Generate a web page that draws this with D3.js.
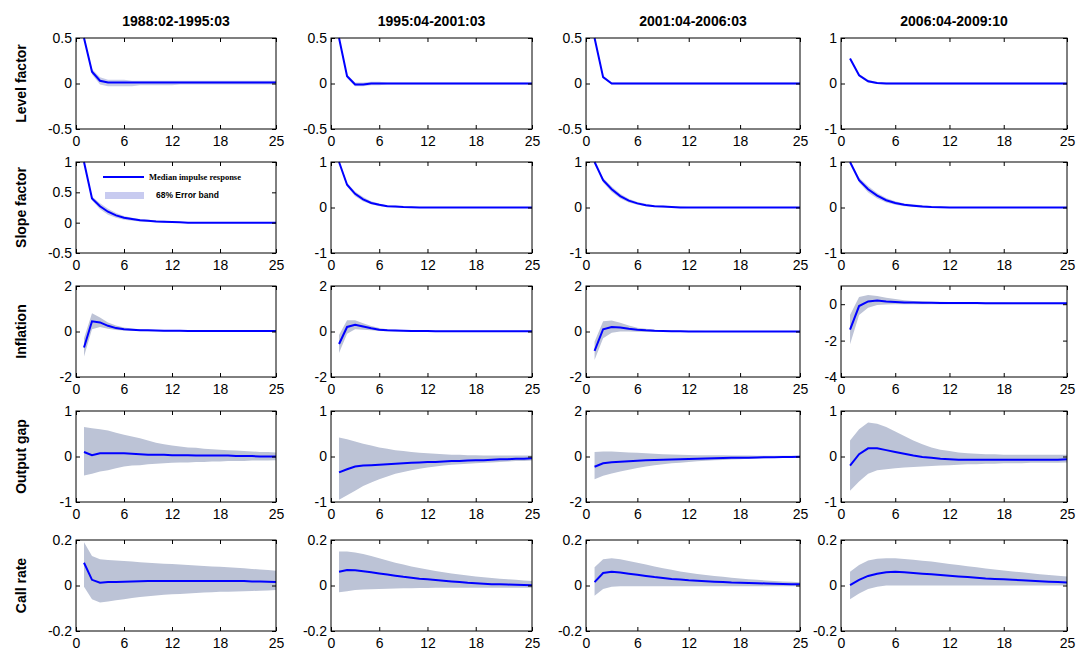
<!DOCTYPE html>
<html><head><meta charset="utf-8">
<script src="https://cdn.jsdelivr.net/npm/d3@7"></script>
<style>
body{margin:0;background:#fff;}
text{font-family:Arial,"Liberation Sans",sans-serif;}
</style></head>
<body><div id="chart"></div>
<script>
var periods = ["1988:02-1995:03","1995:04-2001:03","2001:04-2006:03","2006:04-2009:10"];
var variables = ["Level factor","Slope factor","Inflation","Output gap","Call rate"];
var xTicks = [0,6,12,18,25];
var horizon = d3.range(1, 26);

// y domains and tick labels per row / column
var yDomains = [
  [[-0.5,0.5],[-0.5,0.5],[-0.5,0.5],[-1,1]],
  [[-0.5,1],[-1,1],[-1,1],[-1,1]],
  [[-2,2],[-2,2],[-2,2],[-4,1]],
  [[-1,1],[-1,1],[-2,2],[-1,1]],
  [[-0.2,0.2],[-0.2,0.2],[-0.2,0.2],[-0.2,0.2]]
];
var yTicks = [
  [[-0.5,0,0.5],[-0.5,0,0.5],[-0.5,0,0.5],[-1,0,1]],
  [[-0.5,0,0.5,1],[-1,0,1],[-1,0,1],[-1,0,1]],
  [[-2,0,2],[-2,0,2],[-2,0,2],[-4,-2,0]],
  [[-1,0,1],[-1,0,1],[-2,0,2],[-1,0,1]],
  [[-0.2,0,0.2],[-0.2,0,0.2],[-0.2,0,0.2],[-0.2,0,0.2]]
];

// Level factor
var levelMed = [
  [0.5,0.13,0.03,0.01,0.01,0.01,0.01,0.01,0.01,0.01,0.01,0.01,0.01,0.01,0.01,0.01,0.01,0.01,0.01,0.01,0.01,0.01,0.01,0.01,0.01],
  [0.5,0.08,-0.01,-0.01,0,0,0,0,0,0,0,0,0,0,0,0,0,0,0,0,0,0,0,0,0],
  [0.5,0.07,0,0,0,0,0,0,0,0,0,0,0,0,0,0,0,0,0,0,0,0,0,0,0],
  [0.55,0.18,0.05,0.01,0,0,0,0,0,0,0,0,0,0,0,0,0,0,0,0,0,0,0,0,0]
];
var levelLo = [
  [0.5,0.1,-0.01,-0.03,-0.03,-0.03,-0.03,-0.02,-0.02,-0.02,-0.02,-0.02,-0.01,-0.01,-0.01,-0.01,-0.01,-0.01,-0.01,-0.01,-0.01,-0.01,-0.01,-0.01,-0.01],
  [0.5,0.06,-0.03,-0.03,-0.02,-0.02,-0.01,-0.01,-0.01,-0.01,-0.01,-0.01,-0.01,-0.01,-0.01,-0.01,-0.01,-0.01,-0.01,-0.01,-0.01,-0.01,-0.01,-0.01,-0.01],
  [0.5,0.06,-0.01,-0.01,-0.01,-0.01,-0.01,-0.01,-0.01,-0.01,-0.01,-0.01,-0.01,-0.01,-0.01,-0.01,-0.01,-0.01,-0.01,-0.01,-0.01,-0.01,-0.01,-0.01,-0.01],
  [0.55,0.15,0.02,-0.01,-0.02,-0.02,-0.02,-0.02,-0.02,-0.02,-0.02,-0.02,-0.02,-0.02,-0.02,-0.02,-0.02,-0.02,-0.02,-0.02,-0.02,-0.02,-0.02,-0.02,-0.02]
];
var levelHi = [
  [0.5,0.16,0.07,0.04,0.04,0.04,0.03,0.03,0.03,0.03,0.03,0.03,0.03,0.03,0.03,0.03,0.03,0.03,0.03,0.03,0.03,0.03,0.03,0.03,0.03],
  [0.5,0.1,0.01,0.01,0.02,0.02,0.01,0.01,0.01,0.01,0.01,0.01,0.01,0.01,0.01,0.01,0.01,0.01,0.01,0.01,0.01,0.01,0.01,0.01,0.01],
  [0.5,0.08,0.01,0.01,0.01,0.01,0.01,0.01,0.01,0.01,0.01,0.01,0.01,0.01,0.01,0.01,0.01,0.01,0.01,0.01,0.01,0.01,0.01,0.01,0.01],
  [0.55,0.21,0.08,0.03,0.02,0.02,0.02,0.02,0.02,0.02,0.02,0.02,0.02,0.02,0.02,0.02,0.02,0.02,0.02,0.02,0.02,0.02,0.02,0.02,0.02]
];

// Slope factor
var slopeMed = [
  [1,0.4,0.27,0.18,0.12,0.08,0.06,0.04,0.03,0.02,0.015,0.01,0.005,0,0,0,0,0,0,0,0,0,0,0,0],
  [1,0.5,0.3,0.18,0.1,0.06,0.03,0.02,0.01,0.005,0,0,0,0,0,0,0,0,0,0,0,0,0,0,0],
  [1,0.6,0.4,0.25,0.15,0.09,0.05,0.03,0.02,0.01,0,0,0,0,0,0,0,0,0,0,0,0,0,0,0],
  [1,0.6,0.4,0.26,0.16,0.1,0.06,0.04,0.02,0.01,0.005,0,0,0,0,0,0,0,0,0,0,0,0,0,0]
];
var slopeLo = [
  [1,0.37,0.22,0.13,0.08,0.05,0.03,0.02,0.01,0.01,0,0,0,0,0,0,0,0,0,0,0,0,0,0,0],
  [1,0.46,0.25,0.13,0.07,0.03,0.01,0,0,0,0,0,0,0,0,0,0,0,0,0,0,0,0,0,0],
  [1,0.55,0.34,0.2,0.11,0.06,0.03,0.01,0,0,0,0,0,0,0,0,0,0,0,0,0,0,0,0,0],
  [1,0.55,0.33,0.2,0.11,0.06,0.03,0.01,0,0,0,0,0,0,0,0,0,0,0,0,0,0,0,0,0]
];
var slopeHi = [
  [1,0.43,0.32,0.23,0.16,0.11,0.08,0.06,0.05,0.04,0.03,0.02,0.01,0.01,0,0,0,0,0,0,0,0,0,0,0],
  [1,0.54,0.35,0.23,0.14,0.09,0.05,0.04,0.03,0.02,0.01,0.01,0,0,0,0,0,0,0,0,0,0,0,0,0],
  [1,0.65,0.46,0.3,0.19,0.12,0.08,0.05,0.04,0.03,0.02,0.01,0,0,0,0,0,0,0,0,0,0,0,0,0],
  [1,0.66,0.47,0.32,0.21,0.14,0.09,0.07,0.05,0.03,0.02,0.01,0,0,0,0,0,0,0,0,0,0,0,0,0]
];

// Inflation
var inflMed = [
  [-0.7,0.45,0.4,0.25,0.15,0.1,0.08,0.06,0.05,0.04,0.03,0.03,0.03,0.02,0.02,0.02,0.02,0.02,0.02,0.02,0.02,0.02,0.02,0.02,0.02],
  [-0.55,0.2,0.3,0.22,0.14,0.08,0.05,0.04,0.03,0.02,0.02,0.02,0.01,0.01,0.01,0.01,0.01,0.01,0.01,0.01,0.01,0.01,0.01,0.01,0.01],
  [-0.85,0.1,0.2,0.18,0.12,0.08,0.05,0.03,0.02,0.01,0.01,0,0,0,0,0,0,0,0,0,0,0,0,0,0],
  [-1.4,-0.1,0.15,0.2,0.15,0.12,0.1,0.09,0.08,0.08,0.07,0.07,0.06,0.06,0.06,0.05,0.05,0.05,0.05,0.05,0.05,0.05,0.05,0.05,0.05]
];
var inflLo = [
  [-1.1,0.1,0.2,0.12,0.07,0.04,0.03,0.02,0.01,0.01,0,0,0,0,0,0,0,0,0,0,0,0,0,0,0],
  [-0.95,-0.1,0.1,0.08,0.05,0.02,0.01,0,0,0,0,0,0,0,0,0,0,0,0,0,0,0,0,0,0],
  [-1.25,-0.3,-0.05,0,0,-0.01,-0.02,-0.02,-0.02,-0.02,-0.02,-0.02,-0.02,-0.02,-0.02,-0.02,-0.02,-0.02,-0.02,-0.02,-0.02,-0.02,-0.02,-0.02,-0.02],
  [-2.2,-0.6,-0.2,-0.05,-0.02,0,0,0,0,0,0,0,0,0,0,0,0,0,0,0,0,0,0,0,0]
];
var inflHi = [
  [-0.3,0.8,0.62,0.4,0.26,0.18,0.13,0.1,0.08,0.07,0.06,0.05,0.05,0.04,0.04,0.04,0.04,0.04,0.04,0.04,0.04,0.04,0.04,0.04,0.04],
  [-0.15,0.5,0.5,0.36,0.24,0.15,0.1,0.08,0.06,0.05,0.04,0.04,0.03,0.03,0.03,0.03,0.03,0.03,0.03,0.03,0.03,0.03,0.03,0.03,0.03],
  [-0.45,0.45,0.48,0.38,0.26,0.17,0.12,0.08,0.06,0.05,0.04,0.03,0.03,0.02,0.02,0.02,0.02,0.02,0.02,0.02,0.02,0.02,0.02,0.02,0.02],
  [-0.6,0.4,0.5,0.45,0.36,0.28,0.22,0.18,0.16,0.14,0.13,0.12,0.11,0.1,0.1,0.09,0.09,0.09,0.08,0.08,0.08,0.08,0.08,0.08,0.08]
];

// Output gap
var gapMed = [
  [0.1,0.03,0.07,0.07,0.07,0.07,0.06,0.05,0.04,0.04,0.04,0.03,0.03,0.03,0.02,0.02,0.02,0.02,0.02,0.01,0.01,0.01,0,0,0],
  [-0.35,-0.28,-0.22,-0.2,-0.19,-0.18,-0.17,-0.16,-0.15,-0.14,-0.13,-0.12,-0.12,-0.11,-0.1,-0.1,-0.09,-0.08,-0.08,-0.07,-0.06,-0.06,-0.05,-0.05,-0.04],
  [-0.45,-0.3,-0.25,-0.23,-0.21,-0.19,-0.17,-0.15,-0.14,-0.13,-0.12,-0.11,-0.1,-0.09,-0.08,-0.07,-0.06,-0.05,-0.05,-0.04,-0.03,-0.03,-0.02,-0.02,-0.01],
  [-0.2,0.05,0.18,0.18,0.14,0.1,0.06,0.02,-0.01,-0.03,-0.05,-0.06,-0.07,-0.07,-0.07,-0.07,-0.07,-0.07,-0.07,-0.07,-0.07,-0.07,-0.07,-0.07,-0.06]
];
var gapLo = [
  [-0.42,-0.38,-0.33,-0.3,-0.26,-0.22,-0.2,-0.19,-0.17,-0.16,-0.15,-0.14,-0.13,-0.13,-0.12,-0.12,-0.11,-0.11,-0.1,-0.1,-0.1,-0.09,-0.09,-0.09,-0.08],
  [-0.95,-0.85,-0.75,-0.65,-0.57,-0.5,-0.44,-0.38,-0.34,-0.3,-0.27,-0.24,-0.22,-0.2,-0.18,-0.17,-0.16,-0.15,-0.14,-0.13,-0.12,-0.11,-0.1,-0.1,-0.09],
  [-1.0,-0.85,-0.75,-0.66,-0.58,-0.5,-0.44,-0.39,-0.34,-0.3,-0.27,-0.24,-0.21,-0.19,-0.17,-0.15,-0.13,-0.12,-0.1,-0.09,-0.08,-0.07,-0.06,-0.05,-0.04],
  [-0.75,-0.55,-0.38,-0.3,-0.28,-0.26,-0.24,-0.23,-0.22,-0.21,-0.2,-0.19,-0.18,-0.17,-0.17,-0.16,-0.16,-0.15,-0.15,-0.15,-0.14,-0.14,-0.14,-0.14,-0.13]
];
var gapHi = [
  [0.65,0.62,0.6,0.57,0.52,0.48,0.44,0.4,0.35,0.3,0.27,0.24,0.22,0.2,0.19,0.17,0.16,0.15,0.14,0.13,0.12,0.11,0.1,0.1,0.09],
  [0.42,0.38,0.33,0.28,0.24,0.2,0.17,0.14,0.12,0.1,0.08,0.07,0.06,0.05,0.04,0.04,0.03,0.03,0.02,0.02,0.02,0.02,0.02,0.02,0.02],
  [0.2,0.22,0.22,0.2,0.18,0.16,0.14,0.12,0.1,0.09,0.08,0.07,0.06,0.06,0.05,0.05,0.04,0.04,0.04,0.03,0.03,0.03,0.03,0.03,0.03],
  [0.35,0.6,0.75,0.72,0.65,0.55,0.45,0.35,0.27,0.2,0.15,0.12,0.09,0.07,0.06,0.05,0.05,0.04,0.04,0.04,0.04,0.04,0.04,0.04,0.04]
];

// Call rate
var callMed = [
  [0.1,0.025,0.012,0.015,0.015,0.017,0.018,0.019,0.02,0.02,0.02,0.02,0.02,0.02,0.02,0.02,0.02,0.02,0.02,0.02,0.02,0.018,0.018,0.017,0.015],
  [0.06,0.068,0.067,0.063,0.058,0.053,0.048,0.043,0.038,0.034,0.03,0.027,0.024,0.021,0.018,0.015,0.012,0.01,0.008,0.006,0.005,0.004,0.003,0.002,0.001],
  [0.015,0.055,0.06,0.057,0.052,0.047,0.042,0.037,0.033,0.029,0.026,0.023,0.021,0.019,0.017,0.015,0.013,0.012,0.011,0.01,0.009,0.008,0.007,0.006,0.005],
  [0.002,0.025,0.042,0.052,0.058,0.06,0.058,0.055,0.052,0.049,0.046,0.043,0.04,0.037,0.034,0.031,0.029,0.027,0.025,0.023,0.021,0.019,0.017,0.015,0.013]
];
var callLo = [
  [-0.005,-0.06,-0.075,-0.07,-0.065,-0.06,-0.055,-0.05,-0.047,-0.044,-0.041,-0.039,-0.037,-0.035,-0.033,-0.031,-0.03,-0.028,-0.027,-0.026,-0.025,-0.024,-0.023,-0.022,-0.02],
  [-0.03,-0.025,-0.02,-0.018,-0.016,-0.015,-0.014,-0.013,-0.012,-0.012,-0.011,-0.011,-0.01,-0.01,-0.01,-0.01,-0.01,-0.01,-0.01,-0.01,-0.01,-0.01,-0.01,-0.01,-0.01],
  [-0.045,-0.015,-0.005,-0.003,-0.003,-0.003,-0.003,-0.003,-0.003,-0.003,-0.003,-0.003,-0.003,-0.003,-0.003,-0.003,-0.003,-0.003,-0.003,-0.003,-0.003,-0.003,-0.003,-0.003,-0.003],
  [-0.06,-0.035,-0.015,-0.005,0,0,0,0,0,0,0,0,0,0,0,0,0,0,0,0,0,0,0,0,0]
];
var callHi = [
  [0.19,0.13,0.115,0.112,0.11,0.108,0.105,0.102,0.1,0.098,0.096,0.094,0.092,0.09,0.088,0.086,0.084,0.082,0.08,0.078,0.076,0.073,0.07,0.068,0.065],
  [0.15,0.15,0.145,0.138,0.13,0.12,0.11,0.1,0.092,0.084,0.077,0.07,0.064,0.058,0.053,0.048,0.044,0.04,0.036,0.033,0.03,0.027,0.025,0.022,0.02],
  [0.08,0.115,0.12,0.115,0.108,0.1,0.092,0.084,0.076,0.069,0.062,0.056,0.051,0.046,0.042,0.038,0.034,0.031,0.028,0.025,0.022,0.02,0.018,0.016,0.014],
  [0.06,0.09,0.11,0.118,0.12,0.12,0.117,0.113,0.109,0.105,0.1,0.095,0.09,0.085,0.08,0.075,0.07,0.066,0.062,0.058,0.054,0.05,0.046,0.043,0.04]
];

var medians = [levelMed, slopeMed, inflMed, gapMed, callMed];
var lowers  = [levelLo, slopeLo, inflLo, gapLo, callLo];
var uppers  = [levelHi, slopeHi, inflHi, gapHi, callHi];

var W = 1078, H = 657;
var colLeft = [76, 331, 586, 841];
var colWidth = [200, 201, 214, 226];
var rowTop = [38, 162, 286, 411, 540];
var rowHeight = 91;
var bandColor = ["#c6cbe6", "#c6cbe6", "#bdc3d6", "#bcc3d6", "#bcc3d6"];

var svg = d3.select("#chart").append("svg").attr("width", W).attr("height", H);

var fmt = function(v){ return String(v); };

periods.forEach(function(p, c){
  svg.append("text")
    .attr("x", colLeft[c] + colWidth[c]/2).attr("y", 26)
    .attr("text-anchor", "middle").style("font-size", "14px").style("font-weight", "bold")
    .text(p);
});

variables.forEach(function(v, r){
  svg.append("text")
    .attr("transform", "translate(26," + (rowTop[r] + rowHeight/2) + ") rotate(-90)")
    .attr("text-anchor", "middle").style("font-size", "14px").style("font-weight", "bold")
    .text(v);

  periods.forEach(function(p, c){
    var x = d3.scaleLinear().domain([0, 25]).range([0, colWidth[c]]);
    var y = d3.scaleLinear().domain(yDomains[r][c]).range([rowHeight, 0]);
    var g = svg.append("g").attr("transform", "translate(" + colLeft[c] + "," + rowTop[r] + ")");

    var data = horizon.map(function(h, i){
      return {h: h, m: medians[r][c][i], lo: lowers[r][c][i], hi: uppers[r][c][i]};
    });

    g.append("path").datum(data)
      .attr("fill", bandColor[r])
      .attr("d", d3.area().x(function(d){ return x(d.h); })
        .y0(function(d){ return y(d.lo); }).y1(function(d){ return y(d.hi); }));

    g.append("path").datum(data)
      .attr("fill", "none").attr("stroke", "#0000ff").attr("stroke-width", 2)
      .attr("d", d3.line().x(function(d){ return x(d.h); }).y(function(d){ return y(d.m); }));

    // frame
    g.append("rect").attr("width", colWidth[c]).attr("height", rowHeight)
      .attr("fill", "none").attr("stroke", "#000").attr("stroke-width", 1);

    var xb = g.append("g").attr("transform", "translate(0," + rowHeight + ")")
      .call(d3.axisBottom(x).tickValues(xTicks).tickSizeInner(-4).tickSizeOuter(0).tickPadding(4).tickFormat(fmt));
    var xt = g.append("g")
      .call(d3.axisTop(x).tickValues(xTicks).tickSizeInner(-4).tickSizeOuter(0).tickFormat(""));
    var yl = g.append("g")
      .call(d3.axisLeft(y).tickValues(yTicks[r][c]).tickSizeInner(-4).tickSizeOuter(0).tickPadding(4).tickFormat(fmt));
    var yr = g.append("g").attr("transform", "translate(" + colWidth[c] + ",0)")
      .call(d3.axisRight(y).tickValues(yTicks[r][c]).tickSizeInner(-4).tickSizeOuter(0).tickFormat(""));
    [xb, xt, yl, yr].forEach(function(a){
      a.select(".domain").remove();
      a.selectAll("text").style("font-size", "14px").style("font-family", "Arial,'Liberation Sans',sans-serif").attr("fill", "#000");
    });
    xb.selectAll("text").attr("dy", "0.9em");

    if (r === 1 && c === 0) {
      var lg = g.append("g");
      lg.append("line").attr("x1", 27).attr("x2", 68).attr("y1", 15).attr("y2", 15)
        .attr("stroke", "#0000ff").attr("stroke-width", 2);
      lg.append("text").attr("x", 73).attr("y", 18)
        .style("font-family", "'Liberation Serif','DejaVu Serif',serif").style("font-size", "8.5px").style("font-weight", "bold")
        .text("Median impulse response");
      lg.append("rect").attr("x", 29).attr("y", 30).attr("width", 39).attr("height", 7).attr("fill", "#c8cbf0");
      lg.append("text").attr("x", 80).attr("y", 36)
        .style("font-size", "8.5px").style("font-weight", "bold")
        .text("68% Error band");
    }
  });
});
</script>
</body></html>
